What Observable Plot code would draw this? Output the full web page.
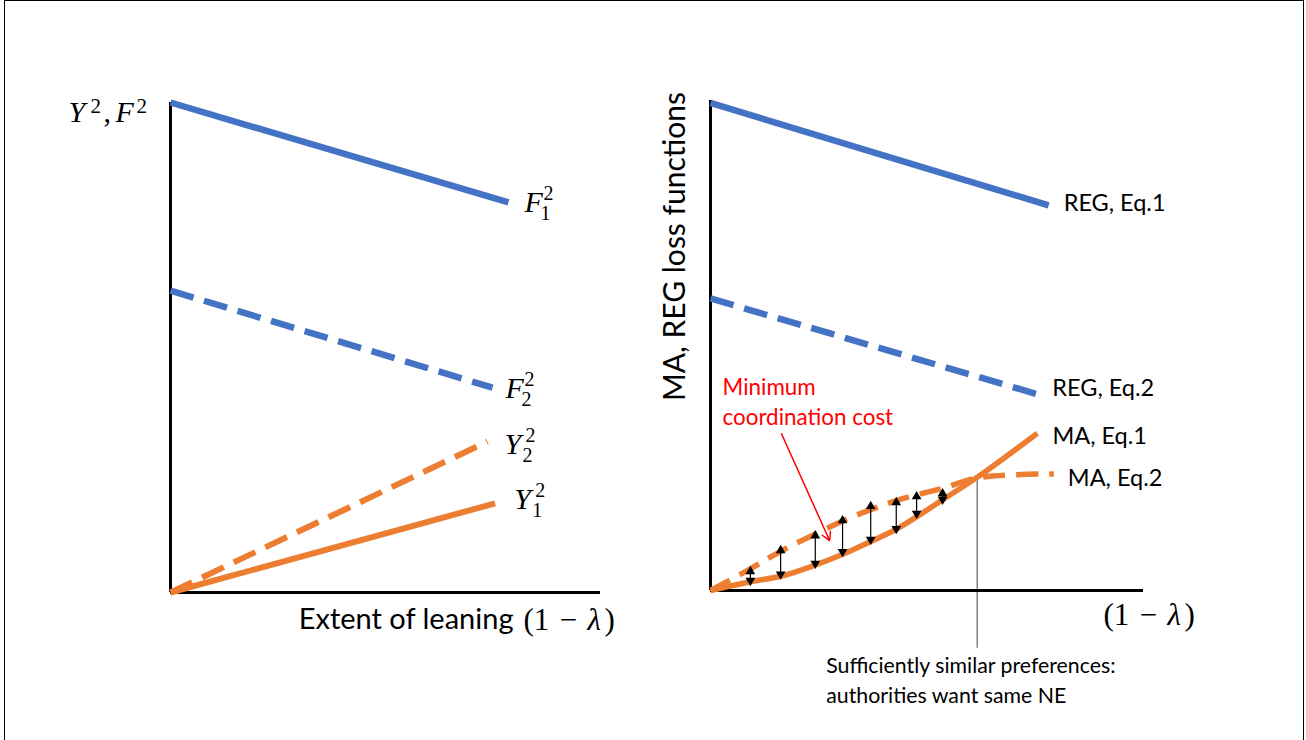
<!DOCTYPE html>
<html><head><meta charset="utf-8">
<script src="https://cdn.jsdelivr.net/npm/d3@7"></script>
<script src="https://cdn.jsdelivr.net/npm/@observablehq/plot@0.6"></script>
<style>
html,body{margin:0;padding:0;background:#fff;}
#wrap{position:relative;width:1306px;height:740px;overflow:hidden;background:#fff;}
#frame{position:absolute;left:4px;top:0px;width:1300px;height:780px;border:1.5px solid #000;box-sizing:border-box;pointer-events:none;}
#left,#right{position:absolute;top:0;}
#left{left:0px}
#right{left:653px}
</style></head><body>
<div id="wrap"><div id="left"></div><div id="right"></div><div id="frame"></div></div>
<script>
// ---------- Left panel data (x: extent of leaning, y: level) ----------
const f1X = [0, 7.86], f1Y = [10, 7.96];          // F_1^2 (solid blue)
const f2X = [0, 7.49], f2Y = [6.16, 4.18];        // F_2^2 (dashed blue)
const y2X = [0, 7.37], y2Y = [0, 3.08];           // Y_2^2 (dashed orange)
const y1X = [0, 7.55], y1Y = [0, 1.82];           // Y_1^2 (solid orange)
const leftBase = ["F", "F", "Y", "Y"];
const leftSub  = ["1", "2", "2", "1"];
const leftSup  = ["2", "2", "2", "2"];
const leftXLabel = "Extent of leaning";
const lambdaParts = ["(1", "\u2212", "\u03BB", ")"];

// ---------- Right panel data ----------
const reg1X = [0, 7.81], reg1Y = [9.95, 7.86];    // REG, Eq.1
const reg2X = [0, 7.57], reg2Y = [5.96, 4.0];     // REG, Eq.2
const ma1X = [0, 0.92, 1.62, 2.39, 3.08, 3.70, 4.31, 4.93, 5.39, 6.16, 7.55];
const ma1Y = [0, 0.18, 0.29, 0.51, 0.75, 1.00, 1.26, 1.60, 1.87, 2.31, 3.21];
const ma2X = [0, 0.92, 1.62, 2.39, 3.08, 3.70, 4.31, 4.93, 5.39, 6.16, 7.93];
const ma2Y = [0, 0.44, 0.80, 1.14, 1.43, 1.65, 1.84, 1.99, 2.09, 2.30, 2.38];
const gapX   = [0.92, 1.62, 2.42, 3.05, 3.70, 4.29, 4.76, 5.36];
const gapTop = [0.45, 0.88, 1.18, 1.49, 1.78, 1.86, 1.98, 2.04];
const gapBot = [0.14, 0.27, 0.49, 0.73, 0.98, 1.20, 1.51, 1.80];
const neX = [6.16], neTop = [2.31], neBottom = [-1.18];
const costArrowFrom = [1.64, 3.20], costArrowTo = [2.75, 1.02];
const rightLabels = ["REG, Eq.1", "REG, Eq.2", "MA, Eq.1", "MA, Eq.2"];
const rightYLabel = "MA, REG loss functions";
const costLabel = "Minimum\ncoordination cost";
const neLabel = "Sufficiently similar preferences:\nauthorities want same NE";

// ---------- styles ----------
const BLUE = "#4472C4", ORANGE = "#ED7D31";
const SANS = "Lato, 'Open Sans', sans-serif";
const SERIF = "'Liberation Serif', 'DejaVu Serif', serif";
const DASH = "24,11";
const LINE = {strokeLinecap: "butt", strokeLinejoin: "round"};

const rows = (xs, ys) => xs.map((x, i) => ({x, y: ys[i]}));
const last = a => a[a.length - 1];

function mathLabel(px, py, base, sup, sub, dx, dy, supDx, subDx, opt = {}) {
  const size = opt.size ?? 30, small = opt.small ?? 20;
  const supDy = opt.supDy ?? -12, subDy = opt.subDy ?? 8;
  const common = {x: [px], y: [py], textAnchor: "start", lineAnchor: "bottom", fill: "#000", fontFamily: SERIF};
  const m = [Plot.text([0], {...common, text: [base], dx, dy, fontSize: size, fontStyle: "italic"})];
  if (sup) m.push(Plot.text([0], {...common, text: [sup], dx: dx + supDx, dy: dy + supDy, fontSize: small}));
  if (sub) m.push(Plot.text([0], {...common, text: [sub], dx: dx + subDx, dy: dy + subDy, fontSize: small}));
  return m;
}

// "(1 − λ)" built from pieces anchored at the x-axis end
function lambdaMarks(dx, dy) {
  const common = {x: [10], y: [0], lineAnchor: "bottom", fill: "#000", fontFamily: SERIF, fontSize: 31};
  return [
    Plot.text([0], {...common, text: [lambdaParts[0]], dx: dx, dy, textAnchor: "start"}),
    Plot.text([0], {...common, text: [lambdaParts[1]], dx: dx + 45, dy, textAnchor: "middle"}),
    Plot.text([0], {...common, text: [lambdaParts[2]], dx: dx + 64, dy, textAnchor: "start", fontStyle: "italic"}),
    Plot.text([0], {...common, text: [lambdaParts[3]], dx: dx + 81, dy, textAnchor: "start"})
  ];
}

const axisMarks = [
  Plot.ruleX([0], {y1: 0, y2: 10, stroke: "#000", strokeWidth: 3}),
  Plot.ruleY([0], {x1: 0, x2: 10, stroke: "#000", strokeWidth: 3})
];

// ---------- Left plot ----------
const left = Plot.plot({
  width: 653, height: 740,
  marginLeft: 170, marginRight: 53, marginTop: 102, marginBottom: 148,
  x: {domain: [0, 10], axis: null},
  y: {domain: [0, 10], axis: null},
  style: {background: "transparent", overflow: "visible"},
  marks: [
    ...axisMarks,
    Plot.line(rows(f1X, f1Y), {x: "x", y: "y", stroke: BLUE, strokeWidth: 6.5, ...LINE}),
    Plot.line(rows(f2X, f2Y), {x: "x", y: "y", stroke: BLUE, strokeWidth: 6.5, strokeDasharray: DASH, ...LINE}),
    Plot.line(rows(y2X, y2Y), {x: "x", y: "y", stroke: ORANGE, strokeWidth: 6, strokeDasharray: DASH, ...LINE}),
    Plot.line(rows(y1X, y1Y), {x: "x", y: "y", stroke: ORANGE, strokeWidth: 6, ...LINE}),
    ...mathLabel(last(f1X), last(f1Y), leftBase[0], leftSup[0], leftSub[0], 16, 10, 19, 16),
    ...mathLabel(last(f2X), last(f2Y), leftBase[1], leftSup[1], leftSub[1], 13, 10, 19, 16),
    ...mathLabel(last(y2X), last(y2Y), leftBase[2], leftSup[2], leftSub[2], 17, 12, 21, 18),
    ...mathLabel(last(y1X), last(y1Y), leftBase[3], leftSup[3], leftSub[3], 19, 6, 21, 18),
    // "Y^2, F^2" axis title
    ...mathLabel(0, 10, "Y", "2", null, -102, 19, 22, 0, {supDy: -9, small: 21}),
    Plot.text([0], {x: [0], y: [10], text: [","], dx: -67, dy: 19, textAnchor: "start", lineAnchor: "bottom", fontFamily: SERIF, fontSize: 30}),
    ...mathLabel(0, 10, "F", "2", null, -55, 19, 21, 0, {supDy: -9, small: 21}),
    // x axis title
    Plot.text([0], {x: [10], y: [0], text: [leftXLabel], dx: -87, dy: 36, textAnchor: "end", lineAnchor: "bottom", fontFamily: SANS, fontSize: 29, fill: "#000"}),
    ...lambdaMarks(-77, 37)
  ]
});
document.getElementById("left").append(left);

// ---------- Right plot ----------
const labelOpts = {textAnchor: "start", lineAnchor: "middle", fontFamily: SANS, fontSize: 23.5, fill: "#000"};
const right = Plot.plot({
  width: 653, height: 740,
  marginLeft: 57, marginRight: 163, marginTop: 100, marginBottom: 150,
  x: {domain: [0, 10], axis: null},
  y: {domain: [0, 10], axis: null},
  style: {background: "transparent", overflow: "visible"},
  marks: [
    Plot.ruleX(neX, {x: d => d, y1: neTop, y2: neBottom, stroke: "#808080", strokeWidth: 1.5}),
    ...axisMarks,
    Plot.line(rows(reg1X, reg1Y), {x: "x", y: "y", stroke: BLUE, strokeWidth: 6.5, ...LINE}),
    Plot.line(rows(reg2X, reg2Y), {x: "x", y: "y", stroke: BLUE, strokeWidth: 6.5, strokeDasharray: DASH, ...LINE}),
    Plot.line(rows(ma2X, ma2Y), {x: "x", y: "y", stroke: ORANGE, strokeWidth: 5.5, strokeDasharray: "22,11", curve: "catmull-rom", ...LINE}),
    Plot.line(rows(ma1X, ma1Y), {x: "x", y: "y", stroke: ORANGE, strokeWidth: 5.5, curve: "catmull-rom", ...LINE}),
    // double-headed gap arrows
    Plot.link(gapX, {x1: d => d, x2: d => d, y1: gapTop, y2: gapBot, stroke: "#000", strokeWidth: 1.2}),
    Plot.dot(gapX, {x: d => d, y: gapTop, symbol: "triangle", r: 3.6, fill: "#000", dy: 3}),
    Plot.dot(gapX, {x: d => d, y: gapBot, symbol: "triangle", r: 3.6, fill: "#000", dy: -3, rotate: 180}),
    // red annotation arrow
    Plot.arrow([0], {x1: [costArrowFrom[0]], y1: [costArrowFrom[1]], x2: [costArrowTo[0]], y2: [costArrowTo[1]], stroke: "#FF0000", strokeWidth: 1.5, headLength: 9}),
    Plot.text([0], {x: [costArrowFrom[0]], y: [costArrowFrom[1]], text: [costLabel], dx: -59, dy: -33, textAnchor: "start", lineAnchor: "middle", lineHeight: 1.3, fontFamily: SANS, fontSize: 22.4, fill: "#FF0000"}),
    // series labels
    Plot.text([0], {...labelOpts, x: [last(reg1X)], y: [last(reg1Y)], text: [rightLabels[0]], dx: 15, dy: -2}),
    Plot.text([0], {...labelOpts, x: [last(reg2X)], y: [last(reg2Y)], text: [rightLabels[1]], dx: 14, dy: -6}),
    Plot.text([0], {...labelOpts, x: [last(ma1X)], y: [last(ma1Y)], text: [rightLabels[2]], dx: 15, dy: 3}),
    Plot.text([0], {...labelOpts, x: [last(ma2X)], y: [last(ma2Y)], text: [rightLabels[3]], dx: 14, dy: 5}),
    // NE annotation
    Plot.text([0], {x: neX, y: neBottom, text: [neLabel], dx: -151, dy: 3, textAnchor: "start", lineAnchor: "top", lineHeight: 1.42, fontFamily: SANS, fontSize: 21.3, fill: "#000"}),
    // axis titles
    Plot.text([0], {x: [0], y: [7.02], text: [rightYLabel], dx: -35, rotate: -90, textAnchor: "middle", lineAnchor: "middle", fontFamily: SANS, fontSize: 30, fill: "#000"}),
    ...lambdaMarks(-40, 34)
  ]
});
document.getElementById("right").append(right);
</script>
</body></html>
